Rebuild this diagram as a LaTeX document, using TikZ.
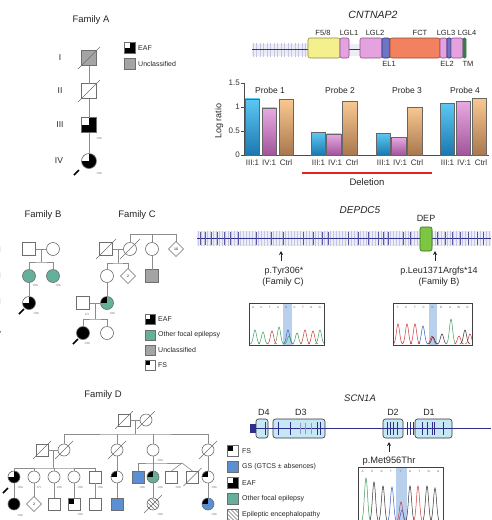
\documentclass[tikz,border=0pt]{standalone}
\usepackage{fontspec}
\setmainfont{Liberation Sans}
\usetikzlibrary{shapes.geometric,arrows.meta}
\definecolor{pedline}{HTML}{8C8C8C}
\definecolor{pedsym}{HTML}{6E6E6E}
\definecolor{ofe}{HTML}{64B09A}
\definecolor{uncl}{HTML}{A4A4A4}
\definecolor{gsblue}{HTML}{5B8FD3}
\definecolor{navy}{HTML}{2E2E8C}
\definecolor{lav}{HTML}{E2E2F2}
\definecolor{lavt}{HTML}{C4C4E4}
\definecolor{yel}{HTML}{F4F08E}
\definecolor{yelb}{HTML}{8E8A4A}
\definecolor{pnk}{HTML}{E4A2DE}
\definecolor{pnkb}{HTML}{8E5088}
\definecolor{elb}{HTML}{6C76C4}
\definecolor{fct}{HTML}{F2825F}
\definecolor{fctb}{HTML}{9A4A36}
\definecolor{tmg}{HTML}{3C7A4C}
\definecolor{depg}{HTML}{7CC644}
\definecolor{depb}{HTML}{3A6A1E}
\definecolor{scnb}{HTML}{C6E7F4}
\definecolor{hl}{HTML}{B9D0EC}
\definecolor{blt}{HTML}{5CC8F2}\definecolor{blb}{HTML}{1B78B0}
\definecolor{pkt}{HTML}{E8AAE2}\definecolor{pkb}{HTML}{A2549A}
\definecolor{ort}{HTML}{F9C891}\definecolor{orb}{HTML}{A8784E}
\definecolor{delred}{HTML}{E52222}
\definecolor{trA}{HTML}{3E9E5A}
\definecolor{trC}{HTML}{3A5BC8}
\definecolor{trG}{HTML}{303030}
\definecolor{trT}{HTML}{D23A3A}
\newcommand\fsz[1]{\fontsize{#1}{#1}\selectfont}
\newcommand\pdead[2][9]{\draw[pedsym, line width=0.6pt] ([shift={(-#1,#1)}]#2.center) -- ([shift={(#1,-#1)}]#2.center);}
\newcommand\pband[3]{\draw[line width=1.7pt, black] ([shift={(#2,#3)}]#1.center) -- ([shift={(#2+5,#3-5)}]#1.center);}
\newcommand\chpeak[4]{\pgfmathsetmacro\chlo{#1-5}\pgfmathsetmacro\chhi{#1+5}\draw[color=#4, line width=0.5pt] plot[domain=\chlo:\chhi, samples=21, smooth] (\x,{#2-#3*exp(-((\x-#1)^2)/5)});}
\begin{document}
\begin{tikzpicture}[x=1pt,y=-1pt,
 ped/.style={draw=pedline, line width=0.6pt},
 sym/.style={draw=pedsym, line width=0.6pt, fill=white, inner sep=0pt, outer sep=0pt},
 sq/.style={sym, rectangle, minimum size=12pt},
 ci/.style={sym, circle, minimum size=12pt},
 dia/.style={sym, diamond, minimum size=15pt, font=\fsz{3.5}},
 eaf/.style={path picture={\fill[black] (path picture bounding box.south west) rectangle (path picture bounding box.north east); \fill[white] (path picture bounding box.north west) rectangle (path picture bounding box.center);}},
 fsq/.style={path picture={\fill[black] (path picture bounding box.north west) rectangle (path picture bounding box.center);}},
 hatch/.style={path picture={\foreach \k in {-20,-16,...,20}{\draw[pedsym,line width=0.45pt] ([shift={(\k-12,-12)}]path picture bounding box.center) -- ([shift={(\k+12,12)}]path picture bounding box.center);}}},
 gt/.style={font=\fsz{3}, text=black!70, inner sep=0pt},
 ttl/.style={font=\fsz{9.5}, text=black!85},
 gen/.style={font=\fsz{8.5}, text=black!85},
 lt/.style={font=\fsz{7}, anchor=west, inner sep=0pt, text=black!85},
 gtitle/.style={font=\fsz{10}\itshape, text=black!85},
 dom/.style={draw, rounded corners=2pt, minimum height=20pt, inner sep=0pt, line width=0.6pt},
 domlab/.style={font=\fsz{7.5}, text=black!85},
 barlab/.style={font=\fsz{8}, text=black!80},
 mlab/.style={font=\fsz{9}, text=black!85},
 arr/.style={-{Stealth[length=4pt,width=4pt]}, line width=0.8pt, black!85},
 scn/.style={draw=black!80, fill=scnb, rounded corners=2.5pt, minimum height=19pt, inner sep=0pt, line width=0.6pt},
 chl/.style={font=\fsz{3}, text=black!60, inner sep=0pt}
]
\useasboundingbox (0,0) rectangle (491,520);
\fill[white] (0,0) rectangle (491,520);

% ================= Family A =================
\node[ttl] (tA) at (91,20) {Family A};
\node[gen] (gA1) at (60,58) {I};
\node[gen] (gA2) at (60,91) {II};
\node[gen] (gA3) at (60,125) {III};
\node[gen] (gA4) at (59,161) {IV};
\node[sq, fill=uncl, minimum size=15pt] (A1) at (89,58) {};
\node[sq, minimum size=15pt] (A2) at (89,91) {};
\node[sq, eaf, minimum size=15pt] (A3) at (89,125) {};
\node[ci, eaf, minimum size=15pt] (A4) at (89,161) {};
\draw[ped] (A1) -- (A2);
\draw[ped] (A2) -- (A3);
\draw[ped] (A3) -- (A4);
\pdead[11]{A1}
\pdead[11]{A2}
\node[gt] (lA3) at (99,138) {+/m};
\node[gt] (lA4) at (99,173) {+/m};
\pband{A4}{-15}{14}
\node[sq, eaf, minimum size=11pt] (LA1) at (130,48) {};
\node[lt] (LA1t) at (138,48) {EAF};
\node[sq, fill=uncl, minimum size=11pt] (LA2) at (130,64) {};
\node[lt] (LA2t) at (138,64) {Unclassified};

% ================= CNTNAP2 =================
\node[gtitle, font=\fsz{10.5}\itshape] (tCN) at (373,15) {CNTNAP2};
\fill[lav, opacity=0.6] (252,44) rectangle (466,56);
\foreach \t in {253,256.5,...,306}{\draw[lavt, line width=0.25pt] (\t,43) -- (\t,57);}
\draw[navy, line width=1pt] (252,49.5) -- (466,49.5);
\node[dom, fill=yel, draw=yelb, minimum width=32pt] (F58) at (324,48) {};
\node[dom, fill=pnk, draw=pnkb, minimum width=9pt] (LGL1) at (344.5,48) {};
\node[dom, fill=pnk, draw=pnkb, minimum width=22pt] (LGL2) at (371,48) {};
\node[dom, fill=elb, draw=navy, minimum width=8pt] (EL1) at (386,48) {};
\node[dom, fill=fct, draw=fctb, minimum width=50pt] (FCT) at (415,48) {};
\node[dom, fill=pnk, draw=pnkb, minimum width=7pt] (LGL3) at (443.5,48) {};
\node[dom, fill=elb, draw=navy, minimum width=4pt, rounded corners=1pt] (EL2) at (449,48) {};
\node[dom, fill=pnk, draw=pnkb, minimum width=12pt] (LGL4) at (457,48) {};
\node[dom, fill=tmg, draw=tmg, minimum width=3pt, rounded corners=1pt] (TM) at (464.5,48) {};
\node[domlab] (lF58) at (323,33) {F5/8};
\node[domlab] (lLGL1) at (349,33) {LGL1};
\node[domlab] (lLGL2) at (375,33) {LGL2};
\node[domlab] (lFCT) at (420,33) {FCT};
\node[domlab] (lLGL3) at (446,33) {LGL3};
\node[domlab] (lLGL4) at (467,33) {LGL4};
\node[domlab] (lEL1) at (389,64) {EL1};
\node[domlab] (lEL2) at (447,64) {EL2};
\node[domlab] (lTM) at (468,64) {TM};

% ================= Bar chart =================
\node[rotate=90, font=\fsz{9}, text=black!85] (ylab) at (219,121) {Log ratio};
\draw[black!70, line width=0.5pt] (244,83) -- (244,155) -- (489,155);
\foreach \v/\lab [count=\i] in {0/0,0.5/0.5,1/1,1.5/1.5}{
  \draw[black!70, line width=0.5pt] (241,{155-48*\v}) -- (244,{155-48*\v});
  \node[barlab, anchor=east, inner sep=1pt] (yt\i) at (241,{155-48*\v}) {\lab};
}
\foreach \bx/\bh/\ct/\cb in {245/1.17/blt/blb, 262/0.98/pkt/pkb, 279/1.16/ort/orb,
  311/0.47/blt/blb, 326.5/0.44/pkt/pkb, 342.5/1.12/ort/orb,
  376/0.45/blt/blb, 391.5/0.37/pkt/pkb, 407.5/1.0/ort/orb,
  440/1.08/blt/blb, 456/1.12/pkt/pkb, 472/1.18/ort/orb}{
  \shade[top color=\ct, bottom color=\cb] (\bx,155) rectangle ({\bx+14.5},{155-48*\bh});
  \draw[black!60, line width=0.5pt] (\bx,155) rectangle ({\bx+14.5},{155-48*\bh});
}
\node[font=\fsz{8.5}, text=black!85] (p1) at (270,90) {Probe 1};
\node[font=\fsz{8.5}, text=black!85] (p2) at (340,90) {Probe 2};
\node[font=\fsz{8.5}, text=black!85] (p3) at (407,90) {Probe 3};
\node[font=\fsz{8.5}, text=black!85] (p4) at (465,90) {Probe 4};
\foreach \g [count=\j] in {245,311,376,440}{
  \node[barlab] (xa\j) at ({\g+7.5},163) {III:1};
  \node[barlab] (xb\j) at ({\g+24},163) {IV:1};
  \node[barlab] (xc\j) at ({\g+41},163) {Ctrl};
}
\coordinate (del1) at (302,173);
\coordinate (del2) at (432,173);
\draw[delred, line width=1.5pt] (del1) -- (del2);
\node[font=\fsz{9.5}, text=black!85] (deltxt) at (367,182) {Deletion};

% ================= Family B =================
\node[ttl] (tB) at (43,215) {Family B};
\node[gen, anchor=east] (gB1) at (4.5,250) {I};
\node[gen, anchor=east] (gB2) at (4.5,276) {II};
\node[gen, anchor=east] (gB3) at (4.5,302) {III};
\node[gen, anchor=east] (gB4) at (4.5,335) {IV};
\node[sq, minimum size=13pt] (B1) at (29,249) {};
\node[ci, minimum size=13pt] (B2) at (53,249) {};
\node[ci, fill=ofe, minimum size=13pt] (B3) at (29,276) {};
\node[ci, fill=ofe, minimum size=13pt] (B4) at (53,276) {};
\node[ci, eaf, minimum size=13pt] (B5) at (29,303) {};
\coordinate (Bm) at (41,249);
\coordinate (Bs) at (41,262);
\draw[ped] (B1) -- (B2);
\draw[ped] (Bm) -- (Bs);
\draw[ped] (B3.north) |- (Bs) -| (B4.north);
\draw[ped] (B3) -- (B5);
\node[gt] (lB3) at (35,285) {+/m};
\node[gt] (lB4) at (58,285) {+/m};
\node[gt] (lB5) at (36,313) {+/m};
\pband{B5}{-10}{11}

% ================= Family C =================
\node[ttl] (tC) at (137,215) {Family C};
\node[sq, minimum size=13pt] (C1) at (106,249) {};
\node[ci, minimum size=13pt] (C2) at (130,249) {};
\node[ci, minimum size=13pt] (C3) at (152,249) {};
\node[dia] (C4) at (176,249) {10};
\node[ci, minimum size=13pt] (C5) at (107,276) {};
\node[dia] (C6) at (128,276) {2};
\node[sq, fill=uncl, minimum size=13pt] (C7) at (152,276) {};
\node[sq, minimum size=13pt] (C8) at (83,303) {};
\node[ci, fill=ofe, fsq, minimum size=13pt] (C9) at (107,303) {};
\node[ci, fill=black, minimum size=13pt] (C10) at (83,333) {};
\node[ci, minimum size=13pt] (C11) at (107,333) {};
\pdead[10]{C1}
\pdead[10]{C2}
\coordinate (Ct) at (0,234);
\draw[ped] (C2.north) -- (C2.north |- Ct) -| (C4.north);
\draw[ped] (C3.north) -- (C3.north |- Ct);
\draw[ped] (C1) -- (C2);
\coordinate (Cm) at (118,249);
\coordinate (Cs) at (118,263);
\draw[ped] (Cm) -- (Cs);
\draw[ped] (C5.north) |- (Cs) -| (C6.north);
\draw[ped] (C3) -- (C7);
\draw[ped] (C5) -- (C9);
\draw[ped] (C8) -- (C9);
\coordinate (Cm2) at (95,303);
\coordinate (Cs2) at (95,319);
\draw[ped] (Cm2) -- (Cs2);
\draw[ped] (C10.north) |- (Cs2) -| (C11.north);
\node[gt] (lC8) at (87,314) {+/+};
\node[gt] (lC9) at (112,313) {+/m};
\node[gt] (lC10) at (87,343) {+/m};
\pband{C10}{-10}{11}
\node[sq, eaf, minimum size=10pt] (LC1) at (150,319) {};
\node[lt] (LC1t) at (158,319) {EAF};
\node[sq, fill=ofe, minimum size=10pt] (LC2) at (150,335) {};
\node[lt] (LC2t) at (158,335) {Other focal epilepsy};
\node[sq, fill=uncl, minimum size=10pt] (LC3) at (150,350) {};
\node[lt] (LC3t) at (158,350) {Unclassified};
\node[sq, fsq, minimum size=10pt] (LC4) at (150,365) {};
\node[lt] (LC4t) at (158,365) {FS};

% ================= DEPDC5 =================
\node[gtitle] (tDE) at (360,210) {DEPDC5};
\fill[lav, opacity=0.6] (197,231) rectangle (491,246);
\foreach \t in {198,201,...,490}{\draw[lavt, line width=0.25pt] (\t,231) -- (\t,246);}
\draw[navy, line width=1pt] (197,238) -- (491,238);
\foreach \t in {200,205,211,217,224,230,238,256,271,283,303,313,322,328,348,358,368,378,383,388,403,410,437,445,452,460,468,477,483}{
  \draw[navy!80, line width=0.45pt] (\t,232) -- (\t,245);}
\node[dom, fill=depg, draw=depb, minimum width=12pt, minimum height=24pt] (DEP) at (426,239) {};
\node[mlab] (lDEP) at (426,218) {DEP};
\coordinate (a1t) at (281,251);
\coordinate (a1b) at (281,261);
\draw[arr] (a1b) -- (a1t);
\coordinate (a2t) at (435,251);
\coordinate (a2b) at (435,261);
\draw[arr] (a2b) -- (a2t);
\node[mlab] (m1) at (284,271) {p.Tyr306*};
\node[mlab] (m1f) at (283,282) {(Family C)};
\node[mlab] (m2) at (439,271) {p.Leu1371Argfs*14};
\node[mlab] (m2f) at (439,282) {(Family B)};

% chromatogram 1
\fill[hl] (283,303) rectangle (292,345);
\begin{scope}
\clip (249,303) rectangle (324,345);
\foreach \px/\ph/\pc in {255/14/trA,263/12/trA,272/13/trT,279/17/trA,288/14/trC,289/8/trA,297/11/trA,305/14/trT,313/13/trT,320/14/trA}{\chpeak{\px}{344}{\ph}{\pc}}
\end{scope}
\draw[black!75, line width=0.7pt] (249,303) rectangle (324,345);
\foreach \c [count=\i] in {A,C,T,A,S,C,T,G,G}{\node[chl] (ca\i) at ({244.7+8.33*\i},307) {\c};}

% chromatogram 2
\fill[hl] (429,303) rectangle (437,345);
\begin{scope}
\clip (393,303) rectangle (472,345);
\foreach \px/\ph/\pc in {398/20/trT,407/20/trT,415/20/trT,423/18/trC,432/8/trT,433/7/trG,442/10/trG,451/25/trA,459/8/trT,465/14/trG,470/10/trT}{\chpeak{\px}{344}{\ph}{\pc}}
\end{scope}
\draw[black!75, line width=0.7pt] (393,303) rectangle (472,345);
\foreach \c [count=\i] in {T,C,T,C,K,R,A,W,G}{\node[chl] (cb\i) at ({388.6+8.78*\i},307) {\c};}

% ================= Family D =================
\node[ttl] (tD) at (103,395) {Family D};
\node[gen, anchor=east] (gD3) at (2,477) {III};
\node[gen, anchor=east] (gD4) at (2,504) {IV};
\node[sq] (D1) at (124,420) {};
\node[ci] (D2) at (146,420) {};
\node[sq] (D3) at (42,450) {};
\node[ci] (D4) at (64,450) {};
\node[ci] (D5) at (117,450) {};
\node[ci] (D6) at (153,450) {};
\node[ci] (D7) at (208,450) {};
\node[ci, eaf] (E1) at (14,477) {};
\node[ci] (E2) at (34,477) {};
\node[ci] (E3) at (54,477) {};
\node[ci] (E4) at (74,477) {};
\node[sq] (E5) at (95,477) {};
\node[ci, fsq] (E6) at (117,477) {};
\node[sq, fill=gsblue] (E7) at (138,477) {};
\node[ci, fill=ofe, fsq] (E8) at (153,477) {};
\node[sq] (E9) at (171.5,477) {};
\node[sq] (E10) at (192.5,477) {};
\node[ci, fsq] (E11) at (208,477) {};
\node[ci, fill=black] (F1) at (14,504) {};
\node[dia] (F2) at (34,504) {2};
\node[sq] (F3) at (54,504) {};
\node[sq, fsq] (F4) at (74,504) {};
\node[sq] (F5) at (95,504) {};
\node[sq, fill=gsblue] (F6) at (117,504) {};
\node[ci, hatch] (F7) at (153,504) {};
\node[ci, fill=gsblue, fsq] (F8) at (208,504) {};
\pdead{D1}
\pdead{D2}
\pdead{D3}
\pdead{D4}
\pdead{D5}
\pdead{D7}
\pdead{E10}
\pdead{F7}
\draw[ped] (D1) -- (D2);
\coordinate (Dm) at (135,420);
\coordinate (Ds) at (135,434);
\draw[ped] (Dm) -- (Ds);
\draw[ped] (D4.north) |- (Ds) -| (D7.north);
\draw[ped] (D5.north) -- (D5.north |- Ds);
\draw[ped] (D6.north) -- (D6.north |- Ds);
\draw[ped] (D3) -- (D4);
\coordinate (Dm2) at (53,450);
\coordinate (Ds2) at (53,468);
\draw[ped] (Dm2) -- (Ds2);
\draw[ped] (E1.north) |- (Ds2) -| (E5.north);
\draw[ped] (E2.north) -- (E2.north |- Ds2);
\draw[ped] (E3.north) -- (E3.north |- Ds2);
\draw[ped] (E4.north) -- (E4.north |- Ds2);
\draw[ped] (D5) -- (E6);
\coordinate (Ds3) at (153,463);
\coordinate (Tw) at (182,463);
\draw[ped] (D6) -- (E8);
\draw[ped] (E7.north) |- (Ds3) -- (Tw);
\draw[ped] (E9.north) -- (Tw) -- (E10.north);
\draw[ped] (D7) -- (E11);
\draw[ped] (E1) -- (F1);
\draw[ped] (E2) -- (F2);
\draw[ped] (E3) -- (F3);
\draw[ped] (E4) -- (F4);
\draw[ped] (E5) -- (F5);
\draw[ped] (E6) -- (F6);
\draw[ped] (E8) -- (F7);
\draw[ped] (E11) -- (F8);
\node[gt] (lD6) at (160,460) {+/m};
\node[gt] (lE1) at (20,487) {+/m};
\node[gt] (lE2) at (39,487) {+/+};
\node[gt] (lE3) at (59,487) {+/m};
\node[gt] (lE4) at (80,487) {+/m};
\node[gt] (lE5) at (100,487) {+/m};
\node[gt] (lE7) at (142,487) {+/m};
\node[gt] (lE8) at (160,487) {+/m};
\node[gt] (lE9) at (178,487) {+/m};
\node[gt] (lE11) at (214,487) {+/m};
\node[gt] (lF1) at (20,515) {+/m};
\node[gt] (lF4) at (80,514) {+/m};
\node[gt] (lF7) at (160,514) {+/m};
\node[gt] (lF8) at (214,514) {+/m};
\pband{E1}{-11}{16}
\node[sq, fsq, minimum size=11pt] (LD1) at (232.5,451) {};
\node[lt] (LD1t) at (242,451) {FS};
\node[sq, fill=gsblue, minimum size=11pt] (LD2) at (232.5,467) {};
\node[lt] (LD2t) at (242,467) {GS (GTCS ± absences)};
\node[sq, eaf, minimum size=11pt] (LD3) at (232.5,483) {};
\node[lt] (LD3t) at (242,483) {EAF};
\node[sq, fill=ofe, minimum size=11pt] (LD4) at (232.5,499) {};
\node[lt] (LD4t) at (242,499) {Other focal epilepsy};
\node[sq, hatch, minimum size=11pt] (LD5) at (232.5,515) {};
\node[lt] (LD5t) at (242,515) {Epileptic encephalopathy};

% ================= SCN1A =================
\node[gtitle, font=\fsz{9.5}\itshape] (tSC) at (360,398) {SCN1A};
\draw[navy, line width=1pt] (250,428) -- (491,428);
\fill[navy] (250,424) rectangle (256,433);
\node[scn, minimum width=12pt] (SD4) at (262,428.5) {};
\node[scn, minimum width=52pt] (SD3) at (299,428.5) {};
\node[scn, minimum width=20pt] (SD2) at (393,428.5) {};
\node[scn, minimum width=37pt] (SD1) at (433.5,428.5) {};
\draw[navy, line width=1pt] (250,428) -- (491,428);
\foreach \t in {265,278,290,317,320,387,390,393,397,407,410,413,422,427,432,434,443}{
  \draw[navy, line width=0.6pt] (\t,422) -- (\t,435);}
\foreach \t in {300,305,311}{\draw[navy!50, line width=0.4pt] (\t,423) -- (\t,434);}
\node[mlab] (lD4) at (264,412) {D4};
\node[mlab] (lD3) at (301,412) {D3};
\node[mlab] (lD2) at (393,412) {D2};
\node[mlab] (lD1) at (429,412) {D1};
\coordinate (a3t) at (389,442);
\coordinate (a3b) at (389,452);
\draw[arr] (a3b) -- (a3t);
\node[mlab, font=\fsz{9.3}] (m3) at (389,461) {p.Met956Thr};
\fill[hl] (396,467) rectangle (407,524);
\begin{scope}
\clip (358,467) rectangle (443,524);
\foreach \px/\ph/\pc in {366/44/trA,374/40/trG,383/36/trG,392/35/trC,401/20/trT,402/12/trC,410/36/trG,418/36/trT,427/36/trG,435/34/trG}{\chpeak{\px}{522}{\ph}{\pc}}
\end{scope}
\draw[black!75, line width=0.7pt] (358,524) -- (358,467) -- (443,467) -- (443,524);
\foreach \c [count=\i] in {A,C,A,T,Y,G,T,G,G}{\node[chl] (cc\i) at ({353.3+9.44*\i},471) {\c};}
\end{tikzpicture}
\end{document}
